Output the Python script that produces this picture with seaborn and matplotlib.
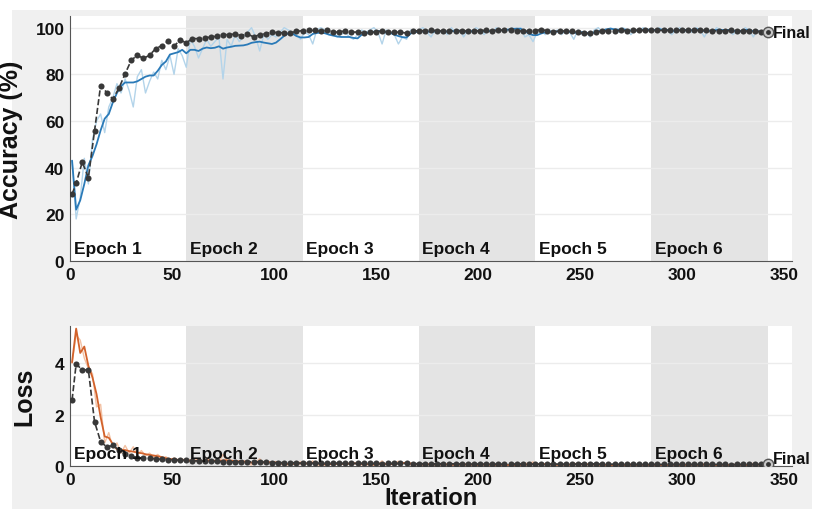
import numpy as np
import matplotlib
matplotlib.use("Agg")
from matplotlib import pyplot as plt
from matplotlib import transforms
from matplotlib.patches import Rectangle
import seaborn as sb

# training run layout
n_epochs = 6
iters_per_epoch = 57
x_ticks = [0, 50, 100, 150, 200, 250, 300, 350]
acc_ticks = [0, 20, 40, 60, 80, 100]
loss_ticks = [0, 2, 4]

# training iterations (sampled every 2nd iteration)
train_iter = np.arange(1, 343, 2)

raw_acc = [
    43, 18, 27, 44, 33, 52, 60, 63, 55, 66,
    70, 76, 72, 78, 73, 66, 79, 82, 72, 77,
    81, 78, 86, 82, 88, 80, 91, 88, 83, 95,
    92, 87, 91, 95, 92, 94, 96, 78, 95, 92,
    97, 94, 96, 98, 100, 96, 90, 97, 95, 97,
    96, 98, 100, 99, 98, 97, 95, 98, 97, 93,
    99, 100, 99, 97, 98, 96, 97, 98, 96, 95,
    97, 99, 98, 99, 100, 98, 93, 99, 98, 97,
    93, 96, 95, 99, 98, 99, 100, 98, 96, 99,
    98, 99, 97, 100, 98, 99, 96, 99, 98, 100,
    99, 97, 99, 98, 100, 99, 98, 99, 100, 99,
    100, 96, 97, 94, 98, 99, 97, 99, 98, 99,
    97, 99, 98, 95, 99, 97, 98, 96, 99, 100,
    98, 99, 100, 99, 98, 100, 99, 97, 99, 98,
    100, 99, 98, 99, 100, 98, 99, 97, 99, 100,
    98, 99, 98, 100, 99, 96, 99, 98, 100, 99,
    98, 99, 97, 99, 98, 100, 99, 96, 99, 97,
    98]

smooth_acc = [
    43, 22, 26, 33, 41, 45, 50, 56, 61, 63,
    68, 72, 75, 76.5, 76.5, 76.5, 77, 78, 79, 79.5,
    79.5, 81.5, 84, 85.5, 88.5, 89, 89.5, 90.5, 89, 90.5,
    90.5, 90, 91, 91.5, 91.2, 91.4, 92, 91, 91.5, 91.8,
    92.2, 92.3, 92.4, 92.8, 93.5, 93.8, 94, 93.6, 93.3, 93,
    93.6, 95, 96.5, 97.6, 97.5, 96.4, 95.8, 95.8, 96, 97.3,
    97.7, 97.9, 97.6, 97, 96.6, 96.2, 96, 96, 96, 95.6,
    95.4, 97, 97.6, 97.9, 98.3, 98.6, 98.3, 98, 97.8, 97,
    96.4, 95.9, 95.8, 97.5, 98, 98.3, 98.4, 98.4, 98.2, 98.4,
    98.5, 98.4, 98.3, 98.5, 98.5, 98.4, 98.3, 98.4, 98.5, 98.6,
    98.6, 98.4, 98.5, 98.6, 98.8, 98.9, 99, 99.2, 99.4, 99.6,
    99.5, 98.6, 97.4, 96.8, 96.8, 97.5, 98, 98.2, 98.3, 98.3,
    98.3, 98.4, 98.2, 97.8, 97.9, 98.1, 97.8, 97.5, 97.9, 98.4,
    98.8, 99.3, 99.5, 99.3, 99.1, 99.2, 99.1, 98.7, 98.8, 98.9,
    99.1, 99.2, 99, 99, 99.3, 99.1, 99, 98.6, 98.7, 99,
    99, 99, 98.9, 99.2, 99.2, 98.5, 98.6, 98.7, 99, 99.1,
    98.9, 99, 98.6, 98.7, 98.6, 99, 99.1, 98.4, 98.5, 98.1,
    98.1]

raw_loss = [
    4.0, 5.1, 4.9, 4.2, 3.8, 3.6, 2.3, 2.4, 0.9, 1.3,
    0.7, 0.9, 0.5, 0.8, 0.5, 0.75, 0.45, 0.6, 0.4, 0.5,
    0.35, 0.45, 0.3, 0.36, 0.22, 0.32, 0.2, 0.28, 0.18, 0.25,
    0.2, 0.26, 0.17, 0.3, 0.2, 0.22, 0.15, 0.45, 0.18, 0.22,
    0.12, 0.2, 0.15, 0.08, 0.04, 0.14, 0.28, 0.1, 0.16, 0.11,
    0.14, 0.08, 0.03, 0.05, 0.07, 0.1, 0.16, 0.08, 0.1, 0.2,
    0.04, 0.02, 0.04, 0.09, 0.07, 0.12, 0.09, 0.06, 0.11, 0.14,
    0.08, 0.04, 0.06, 0.05, 0.02, 0.07, 0.2, 0.04, 0.06, 0.08,
    0.19, 0.12, 0.15, 0.04, 0.06, 0.04, 0.02, 0.06, 0.11, 0.04,
    0.06, 0.04, 0.09, 0.02, 0.05, 0.04, 0.1, 0.03, 0.06, 0.02,
    0.03, 0.08, 0.04, 0.05, 0.02, 0.04, 0.06, 0.03, 0.02, 0.03,
    0.02, 0.11, 0.09, 0.16, 0.06, 0.04, 0.08, 0.03, 0.05, 0.03,
    0.07, 0.03, 0.05, 0.13, 0.03, 0.08, 0.06, 0.1, 0.03, 0.02,
    0.05, 0.03, 0.01, 0.03, 0.05, 0.02, 0.03, 0.08, 0.03, 0.05,
    0.02, 0.03, 0.05, 0.03, 0.01, 0.04, 0.03, 0.07, 0.03, 0.02,
    0.05, 0.03, 0.05, 0.02, 0.03, 0.1, 0.03, 0.04, 0.01, 0.03,
    0.05, 0.03, 0.07, 0.03, 0.04, 0.02, 0.03, 0.11, 0.03, 0.08,
    0.05]

smooth_loss = [
    4.04, 5.35, 4.4, 4.65, 3.9, 3.45, 2.8, 1.9, 1.15, 1.1,
    0.85, 0.65, 0.63, 0.62, 0.58, 0.56, 0.52, 0.5, 0.46, 0.43,
    0.41, 0.38, 0.35, 0.3, 0.27, 0.26, 0.24, 0.23, 0.22, 0.2,
    0.21, 0.21, 0.2, 0.21, 0.21, 0.2, 0.19, 0.22, 0.22, 0.21,
    0.19, 0.18, 0.18, 0.16, 0.13, 0.13, 0.16, 0.15, 0.15, 0.14,
    0.14, 0.12, 0.09, 0.08, 0.08, 0.08, 0.1, 0.1, 0.1, 0.12,
    0.1, 0.08, 0.07, 0.07, 0.07, 0.08, 0.08, 0.08, 0.09, 0.1,
    0.1, 0.08, 0.07, 0.07, 0.06, 0.06, 0.09, 0.08, 0.07, 0.07,
    0.1, 0.11, 0.12, 0.1, 0.08, 0.07, 0.06, 0.06, 0.07, 0.06,
    0.06, 0.05, 0.06, 0.05, 0.05, 0.05, 0.06, 0.05, 0.05, 0.04,
    0.04, 0.05, 0.05, 0.05, 0.04, 0.04, 0.04, 0.04, 0.03, 0.03,
    0.03, 0.05, 0.06, 0.09, 0.08, 0.07, 0.07, 0.06, 0.05, 0.05,
    0.05, 0.05, 0.05, 0.07, 0.06, 0.06, 0.06, 0.07, 0.06, 0.05,
    0.05, 0.04, 0.03, 0.03, 0.03, 0.03, 0.03, 0.04, 0.04, 0.04,
    0.04, 0.04, 0.04, 0.04, 0.03, 0.03, 0.03, 0.04, 0.04, 0.03,
    0.04, 0.04, 0.04, 0.04, 0.03, 0.05, 0.05, 0.04, 0.04, 0.03,
    0.04, 0.04, 0.05, 0.04, 0.04, 0.04, 0.03, 0.05, 0.05, 0.06,
    0.05]

# validation every 3 iterations (plus the first one)
val_iter = np.concatenate([[1], np.arange(3, 343, 3)])

val_acc = [
    28.6, 33.3, 42.4, 35.7, 55.7, 75.2, 72.2, 69.4, 74.1, 80.2,
    86, 88.2, 86.8, 88.2, 91, 92.3, 94.2, 92.1, 94.7, 93.5,
    95.3, 95.3, 95.6, 96, 96.3, 97, 97, 97.3, 96.6, 97.3,
    96, 97, 97.4, 98.1, 97.8, 97.8, 97.8, 98.4, 98.7, 98.8,
    98.8, 98.4, 98.8, 98.1, 98.1, 98.7, 98.1, 98.1, 97.7, 98.1,
    98, 98.7, 98.1, 98.1, 98, 97.7, 98.5, 98.7, 98.7, 98.9,
    98.7, 98.5, 98.5, 98.7, 98.7, 98.5, 98.5, 98.7, 98.9, 98.7,
    98.9, 98.9, 99.2, 98.7, 98.5, 98.5, 98.7, 99.2, 98.7, 98.1,
    98.7, 98.5, 98.5, 98.0, 97.5, 97.5, 98.1, 98.5, 98.7, 98.6,
    98.8, 98.7, 98.8, 98.9, 98.8, 98.9, 98.8, 98.9, 98.8, 98.9,
    98.8, 98.9, 98.8, 98.9, 98.8, 98.6, 98.7, 98.6, 98.9, 98.5,
    98.4, 98.7, 98.5, 98.3, 98.1]

val_loss = [
    2.57, 3.97, 3.74, 3.74, 1.73, 0.95, 0.74, 0.8, 0.62, 0.45,
    0.38, 0.33, 0.31, 0.3, 0.28, 0.26, 0.24, 0.25, 0.22, 0.23,
    0.2, 0.2, 0.19, 0.18, 0.18, 0.17, 0.17, 0.16, 0.17, 0.16,
    0.17, 0.15, 0.15, 0.13, 0.13, 0.13, 0.13, 0.12, 0.11, 0.11,
    0.11, 0.11, 0.1, 0.11, 0.11, 0.1, 0.1, 0.1, 0.11, 0.1,
    0.1, 0.09, 0.1, 0.1, 0.1, 0.1, 0.09, 0.09, 0.09, 0.08,
    0.09, 0.09, 0.09, 0.08, 0.08, 0.08, 0.08, 0.08, 0.08, 0.08,
    0.07, 0.07, 0.07, 0.08, 0.08, 0.08, 0.07, 0.07, 0.07, 0.08,
    0.07, 0.07, 0.07, 0.08, 0.09, 0.09, 0.08, 0.07, 0.07, 0.07,
    0.06, 0.06, 0.06, 0.06, 0.06, 0.06, 0.06, 0.06, 0.06, 0.06,
    0.06, 0.06, 0.06, 0.06, 0.06, 0.06, 0.06, 0.06, 0.05, 0.06,
    0.06, 0.06, 0.06, 0.06, 0.06]

sb.set_theme(style="white")
plt.rcParams["font.family"] = ["Liberation Sans", "DejaVu Sans"]
plt.rcParams["font.weight"] = "bold"

fig = plt.figure(figsize=(8.2, 5.1), dpi=100)
fig.patch.set_facecolor("white")
fig.patches.append(Rectangle((12 / 820, 0), 800 / 820, 1 - 11 / 510,
                             transform=fig.transFigure, facecolor="#f0f0f0",
                             edgecolor="none", zorder=-10))

ax_acc = fig.add_axes([0.0854, 0.4863, 0.8805, 0.4804])
ax_loss = fig.add_axes([0.0854, 0.0843, 0.8805, 0.2745])

val_style = dict(color="#383838", linestyle="--", linewidth=1.2, marker="o",
                 markersize=4.4, markeredgewidth=0, zorder=4)

panels = [
    (ax_acc, raw_acc, smooth_acc, val_acc, "#b3d4ea", "#2a7ab8", (0, 105), acc_ticks, "Accuracy (%)", -0.065),
    (ax_loss, raw_loss, smooth_loss, val_loss, "#f3c1a3", "#d2622b", (0, 5.45), loss_ticks, "Loss", -0.047),
]

for ax, raw, smooth, val, c_raw, c_smooth, ylim, yticks, ylabel, lx in panels:
    ax.set_facecolor("white")
    for k in range(n_epochs):
        if k % 2 == 1:
            ax.axvspan(k * iters_per_epoch, (k + 1) * iters_per_epoch,
                       color="#e4e4e4", lw=0, zorder=1)
    ax.set_axisbelow("line")
    ax.yaxis.grid(True, color="#ececec", linewidth=1.0)
    ax.xaxis.grid(False)

    sb.lineplot(x=train_iter, y=raw, ax=ax, color=c_raw, linewidth=1.0, zorder=2)
    sb.lineplot(x=train_iter, y=smooth, ax=ax, color=c_smooth, linewidth=1.3, zorder=3)
    sb.lineplot(x=val_iter, y=val, ax=ax, **val_style)

    # final validation marker
    ax.plot(val_iter[-1], val[-1], "o", ms=7.5, mfc="#c8c8c8", mec="#555555", mew=1, zorder=5)
    ax.plot(val_iter[-1], val[-1], "o", ms=3.5, mfc="#333333", mec="none", zorder=6)
    ax.annotate("Final", xy=(val_iter[-1], val[-1]), xytext=(4, 0 if ax is ax_acc else 4),
                textcoords="offset points", ha="left", va="center",
                fontsize=11.5, fontweight="bold", color="#111111",
                annotation_clip=False)

    trans = transforms.blended_transform_factory(ax.transData, ax.transAxes)
    for k in range(n_epochs):
        ax.annotate(f"Epoch {k + 1}", xy=(k * iters_per_epoch, 0), xycoords=trans,
                    xytext=(2.5, 3.5), textcoords="offset points",
                    ha="left", va="bottom", fontsize=12.5, fontweight="bold",
                    color="#111111", zorder=7)

    ax.set_xlim(0, 354)
    ax.set_ylim(*ylim)
    ax.set_xticks(x_ticks)
    ax.set_yticks(yticks)
    ax.tick_params(direction="in", length=4, width=0.8, color="#555555",
                   labelsize=12.5, pad=4, labelcolor="#111111")
    for lab in ax.get_xticklabels() + ax.get_yticklabels():
        lab.set_fontweight("bold")
    for side in ["top", "right"]:
        ax.spines[side].set_visible(False)
    for side in ["left", "bottom"]:
        ax.spines[side].set_color("#555555")
        ax.spines[side].set_linewidth(0.8)
    ax.set_ylabel(ylabel, fontsize=18, fontweight="bold", color="#111111")
    ax.yaxis.set_label_coords(lx, 0.5)
    ax.set_xlabel("")

ax_loss.set_xlabel("Iteration", fontsize=17, fontweight="bold", color="#111111")
ax_loss.xaxis.set_label_coords(0.5, -0.14)

fig.savefig("out.png", dpi=100, facecolor=fig.get_facecolor())
